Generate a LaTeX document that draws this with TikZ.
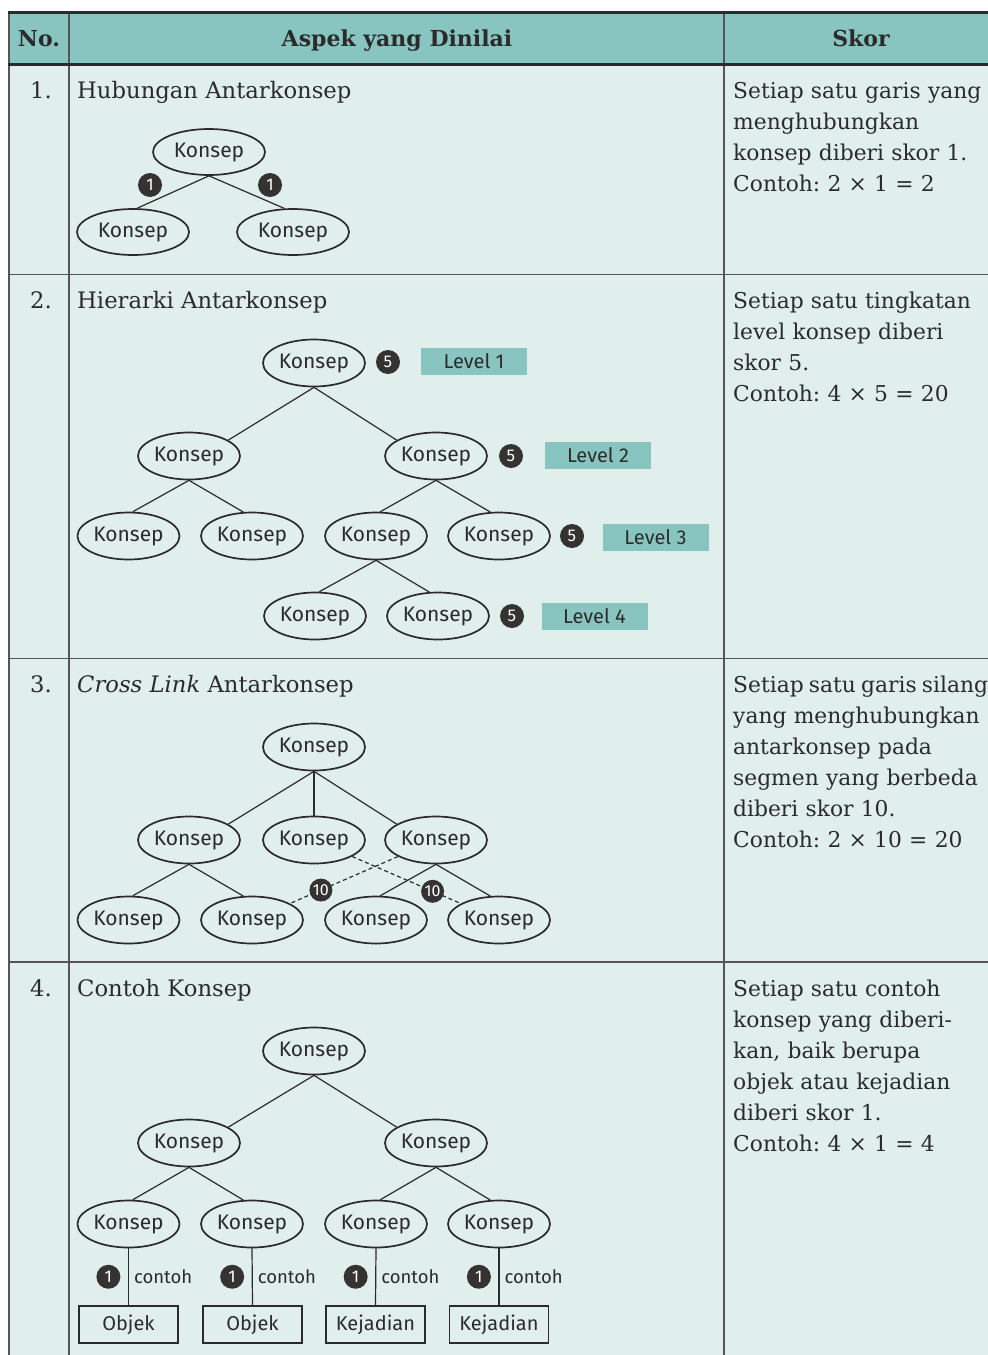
\documentclass[tikz,border=0pt]{standalone}
\usepackage{fontspec}
\setmainfont{DejaVu Serif}
\newfontfamily\fira{Fira Sans}
\usetikzlibrary{shapes.geometric}
\definecolor{headc}{HTML}{89C5C0}
\definecolor{bodyc}{HTML}{E0EFEC}
\definecolor{ink}{HTML}{2B2B2B}
\definecolor{gridc}{HTML}{555555}
\definecolor{badgec}{HTML}{353232}
\frenchspacing
\tikzset{
  kon/.style={ellipse, draw=ink, line width=1.7pt, minimum width=102pt, minimum height=47pt, inner sep=0pt, font=\fira\fontsize{21}{24}\selectfont, text=ink},
  kon1/.style={kon, minimum width=112pt, minimum height=46pt},
  conn/.style={draw=ink, line width=1.2pt},
  cross/.style={draw=ink, line width=1.2pt, dash pattern=on 4pt off 3pt},
  badge/.style={circle, fill=badgec, text=white, minimum size=24pt, inner sep=0pt, font=\fira\fontsize{17}{17}\selectfont},
  badgesm/.style={badge, minimum size=23pt, font=\fira\fontsize{16}{16}\selectfont},
  lvl/.style={fill=headc, minimum width=106pt, minimum height=27pt, inner sep=0pt, font=\fira\fontsize{20}{22}\selectfont, text=ink},
  exbox/.style={draw=ink, line width=1.7pt, minimum width=99pt, minimum height=37pt, inner sep=0pt, font=\fira\fontsize{20}{22}\selectfont, text=ink},
  ctext/.style={font=\fira\fontsize{18.5}{20}\selectfont, text=ink, inner sep=0pt},
  bodytext/.style={font=\fontsize{21.8}{31}\selectfont, text=ink, anchor=base west, align=left, text width=270pt, inner sep=0pt},
  numtext/.style={font=\fontsize{22.7}{31}\selectfont, text=ink, anchor=base west, inner sep=0pt},
  headtext/.style={font=\bfseries\fontsize{22}{24}\selectfont, text=ink, anchor=base, inner sep=0pt},
  grid/.style={draw=gridc, line width=1.4pt},
  thick rule/.style={draw=ink, line width=3pt},
}
\begin{document}
\begin{tikzpicture}[x=1pt,y=-1pt]
\useasboundingbox (0,0) rectangle (988,1355);
% table background
\fill[headc] (9,12) rectangle (988,64);
\fill[bodyc] (9,64) rectangle (988,1355);
\draw[grid] (9,274.5) -- (988,274.5);
\draw[grid] (9,658.5) -- (988,658.5);
\draw[grid] (9,962) -- (988,962);
\draw[grid] (9,12) -- (9,1355);
\draw[grid] (69,12) -- (69,1355);
\draw[grid] (724,12) -- (724,1355);
\draw[thick rule] (8,12) -- (988,12);
\draw[thick rule] (8,64) -- (988,64);
% header
\node[headtext] (hno) at (39,46) {No.};
\node[headtext] (hasp) at (397,46) {Aspek yang Dinilai};
\node[headtext] (hsk) at (861,46) {Skor};
% row numbers and titles
\node[numtext] (n1) at (30,98) {1.};
\node[numtext] (t1) at (77,98) {Hubungan Antarkonsep};
\node[numtext] (n2) at (30,308) {2.};
\node[numtext] (t2) at (77,308) {Hierarki Antarkonsep};
\node[numtext] (n3) at (30,692) {3.};
\node[numtext] (t3) at (77,692) {{\itshape Cross Link} Antarkonsep};
\node[numtext] (n4) at (30,996) {4.};
\node[numtext] (t4) at (77,996) {Contoh Konsep};
% score texts
\node[bodytext] (s1) at (733,98) {Setiap satu garis yang\\menghubungkan\\konsep diberi skor 1.\\Contoh: 2 × 1 = 2};
\node[bodytext] (s2) at (733,308) {Setiap satu tingkatan\\level konsep diberi\\skor 5.\\Contoh: 4 × 5 = 20};
\node[bodytext] (s3) at (733,692) {{\spaceskip=0.24em Setiap satu garis silang}\\yang menghubungkan\\antarkonsep pada\\segmen yang berbeda\\diberi skor 10.\\Contoh: 2 × 10 = 20};
\node[bodytext] (s4) at (733,996) {Setiap satu contoh\\konsep yang diberi-\\kan, baik berupa\\objek atau kejadian\\diberi skor 1.\\Contoh: 4 × 1 = 4};
% ---------- row 1
\node[kon1] (a0) at (209,152) {Konsep};
\node[kon1] (a1) at (133,232) {Konsep};
\node[kon1] (a2) at (293,232) {Konsep};
\draw[conn] (a0.south) -- (a1.80);
\draw[conn] (a0.south) -- (a2.110);
\node[badge] (ab1) at (150,185) {1};
\node[badge] (ab2) at (270,185) {1};
% ---------- row 2
\node[kon] (r2a) at (314,363) {Konsep};
\node[kon] (r2b) at (189,456) {Konsep};
\node[kon] (r2c) at (436,456) {Konsep};
\node[kon] (r2d) at (128.5,536) {Konsep};
\node[kon] (r2e) at (252,536) {Konsep};
\node[kon] (r2f) at (376,536) {Konsep};
\node[kon] (r2g) at (499,536) {Konsep};
\node[kon] (r2h) at (315,616) {Konsep};
\node[kon] (r2i) at (438,616) {Konsep};
\draw[conn] (r2a.south) -- (r2b.22);
\draw[conn] (r2a.south) -- (r2c.158);
\draw[conn] (r2b.south) -- (r2d.80);
\draw[conn] (r2b.south) -- (r2e.110);
\draw[conn] (r2c.south) -- (r2f.80);
\draw[conn] (r2c.south) -- (r2g.110);
\draw[conn] (r2f.south) -- (r2h.80);
\draw[conn] (r2f.south) -- (r2i.110);
\node[badge] (l1b) at (388,362) {5};
\node[badge] (l2b) at (511,456) {5};
\node[badge] (l3b) at (572,536) {5};
\node[badge] (l4b) at (512,616) {5};
\node[lvl] (l1) at (474,361.5) {Level 1};
\node[lvl] (l2) at (598,455.5) {Level 2};
\node[lvl] (l3) at (655.5,537.5) {Level 3};
\node[lvl] (l4) at (594.5,616.5) {Level 4};
% ---------- row 3
\node[kon] (c0) at (314,747) {Konsep};
\node[kon] (c1) at (189,840) {Konsep};
\node[kon] (c2) at (314,840) {Konsep};
\node[kon] (c3) at (436,840) {Konsep};
\node[kon] (c4) at (128.5,920) {Konsep};
\node[kon] (c5) at (252,920) {Konsep};
\node[kon] (c6) at (376,920) {Konsep};
\node[kon] (c7) at (499,920) {Konsep};
\draw[conn] (c0.south) -- (c1.22);
\draw[conn] (c0.south) -- (c2.north);
\draw[conn] (c0.south) -- (c3.158);
\draw[conn] (c1.south) -- (c4.80);
\draw[conn] (c1.south) -- (c5.110);
\draw[conn] (c3.south) -- (c6.80);
\draw[conn] (c3.south) -- (c7.110);
\draw[cross] (c2) -- (c7) node[badgesm, pos=0.74] (x2) {10};
\draw[cross] (c3) -- (c5) node[badgesm, pos=0.714] (x1) {10};
% ---------- row 4
\node[kon] (d0) at (314,1051) {Konsep};
\node[kon] (d1) at (189,1143) {Konsep};
\node[kon] (d2) at (436,1143) {Konsep};
\node[kon] (d3) at (128.5,1224) {Konsep};
\node[kon] (d4) at (252,1224) {Konsep};
\node[kon] (d5) at (376,1224) {Konsep};
\node[kon] (d6) at (499,1224) {Konsep};
\draw[conn] (d0.south) -- (d1.22);
\draw[conn] (d0.south) -- (d2.158);
\draw[conn] (d1.south) -- (d3.80);
\draw[conn] (d1.south) -- (d4.110);
\draw[conn] (d2.south) -- (d5.80);
\draw[conn] (d2.south) -- (d6.110);
\node[exbox] (e1) at (128.5,1324.5) {Objek};
\node[exbox] (e2) at (252.5,1324.5) {Objek};
\node[exbox] (e3) at (375.5,1324.5) {Kejadian};
\node[exbox] (e4) at (499,1324.5) {Kejadian};
\foreach \k/\e in {d3/e1,d4/e2,d5/e3,d6/e4}{
  \draw[conn] (\k.south) -- (\e.north)
    node[ctext, midway, anchor=west, xshift=5pt] {contoh}
    node[badge, midway, anchor=east, xshift=-7.5pt] {1};
}
\end{tikzpicture}
\end{document}
